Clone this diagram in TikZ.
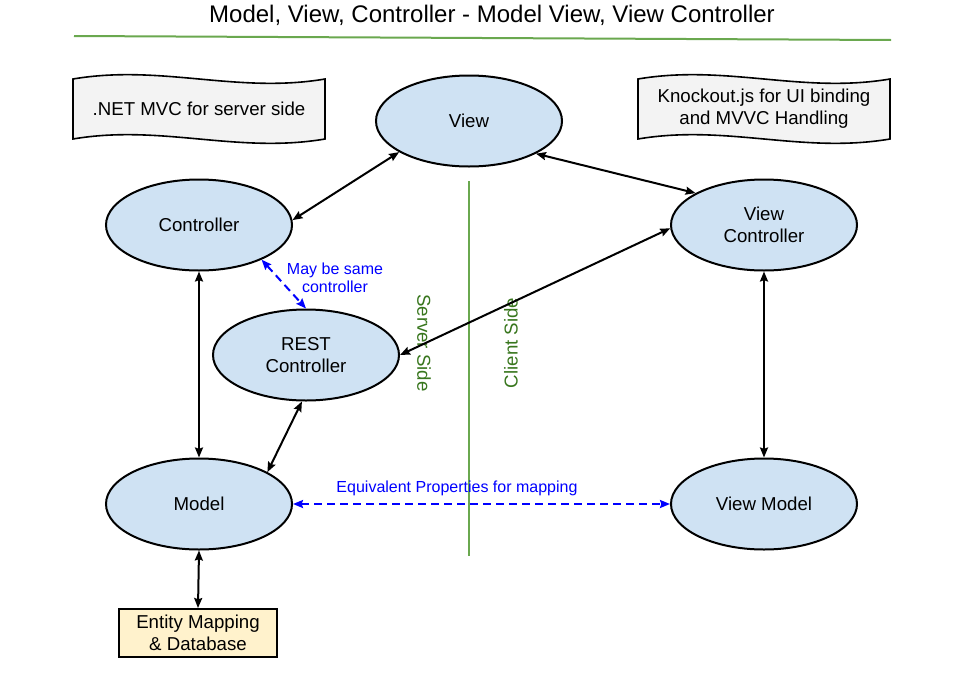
\documentclass[tikz,border=0pt]{standalone}
\usepackage{fontspec}
\setmainfont{Liberation Sans}
\usetikzlibrary{arrows.meta}
\usetikzlibrary{calc}
\usetikzlibrary{backgrounds}
\usetikzlibrary{shapes.geometric}

\definecolor{ovalfill}{HTML}{CFE2F3}
\definecolor{tapefill}{HTML}{F3F3F3}
\definecolor{dbfill}{HTML}{FFF2CC}
\definecolor{sideline}{HTML}{6AA84F}
\definecolor{sidetext}{HTML}{38761D}
\definecolor{notetext}{HTML}{0000FF}

% wavy paper outline round a named node
\newcommand\tapeoutline[1]{%
	\filldraw[fill=tapefill, line width=1.2pt] (#1.north west)
		.. controls ($(#1.north west)!0.35!(#1.north east)+(0,-15)$) and ($(#1.north west)!0.65!(#1.north east)+(0,15)$) .. (#1.north east)
		-- (#1.south east)
		.. controls ($(#1.south west)!0.65!(#1.south east)+(0,15)$) and ($(#1.south west)!0.35!(#1.south east)+(0,-15)$) .. (#1.south west)
		-- cycle;}

\begin{document}
\begin{tikzpicture}[
		x=0.75pt, y=-0.75pt,
		line width=1.5pt,
		>={Stealth[length=7.5pt,width=6pt,inset=1pt]},
		arrow/.style={<->},
		note/.style={<->, notetext, dash pattern=on 6pt off 3.75pt},
		oval/.style={ellipse, draw, fill=ovalfill, inner sep=0pt,
			minimum width=139.5pt, minimum height=68.25pt, align=center,
			font=\fontsize{14}{16.5}\selectfont},
		tape/.style={minimum width=187.5pt, minimum height=43.5pt, inner sep=0pt,
			align=center, font=\fontsize{14}{16.5}\selectfont},
		dbbox/.style={draw, fill=dbfill, minimum width=118.5pt, minimum height=36pt,
			inner sep=0pt, align=center, font=\fontsize{14}{16.5}\selectfont},
		label/.style={notetext, align=center, font=\fontsize{12}{13.5}\selectfont},
		side/.style={sidetext, font=\fontsize{14}{16.5}\selectfont},
	]
	\useasboundingbox (0,0) rectangle (960,675);

	\node (title) [anchor=base, font=\fontsize{18}{22}\selectfont] at (492,22)
		{Model, View, Controller - Model View, View Controller};
	\draw[sideline] (74,36) -- (891,40);

	% split between server and client
	\coordinate (splittop) at (469,181);
	\coordinate (splitbot) at (469,556);
	\draw[sideline] (splittop) -- (splitbot);
	\node (server) [side, rotate=-90] at (424,343) {Server Side};
	\node (client) [side, rotate=90] at (511,343) {Client Side};

	\node (net) [tape] at (199,109) {.NET MVC for server side};
	\node (ko) [tape] at (764,109) {Knockout.js for UI binding\\and MVVC Handling};
	\begin{scope}[on background layer]
		\tapeoutline{net}
		\tapeoutline{ko}
	\end{scope}

	\node (view) [oval] at (469,121) {View};
	\node (ctrl) [oval] at (199,225) {Controller};
	\node (vctrl) [oval] at (764,225) {View\\Controller};
	\node (rest) [oval] at (306,355) {REST\\Controller};
	\node (model) [oval] at (199,504) {Model};
	\node (vmodel) [oval] at (764,504) {View Model};
	\node (db) [dbbox] at (198,633) {Entity Mapping\\\& Database};

	\draw[arrow] (view.204) -- (ctrl.3);
	\draw[arrow] (view.334) -- (vctrl.155);
	\draw[arrow] (rest.east) -- (vctrl.182);
	\draw[arrow] (ctrl.south) -- (model.north);
	\draw[arrow] (rest.265) -- (model.25);
	\draw[arrow] (vctrl.south) -- (vmodel.north);
	\draw[arrow] (model.south) -- (db.north);

	\draw[note] (ctrl.331) -- (rest.north);
	\node (same) [label] at (335,278) {May be same\\controller};
	\draw[note] (model.east) -- (vmodel.west);
	\node (equiv) [label] at (457,488) {Equivalent Properties for mapping};
\end{tikzpicture}
\end{document}
